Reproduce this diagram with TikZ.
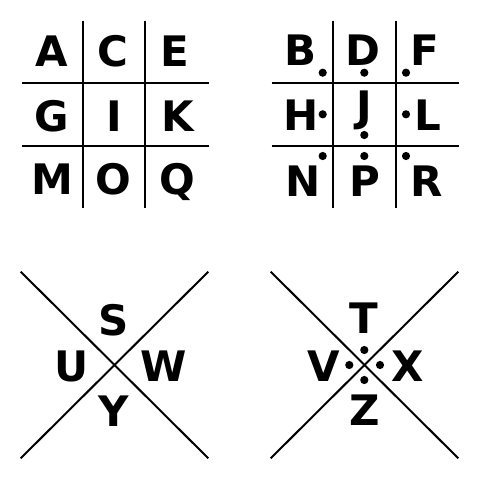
\documentclass[tikz,border=0pt]{standalone}
\usepackage{fontspec}
\setmainfont{DejaVu Sans}
\begin{document}
\begin{tikzpicture}[x=1pt,y=-1pt,
  ltr/.style={anchor=base,inner sep=0pt,font=\fontsize{42}{42}\selectfont\bfseries},
  gridline/.style={line width=2pt,black},
  pdot/.style={fill=black,draw=none}]
\useasboundingbox[fill=white] (0,0) rectangle (480,480);
% top-left grid
\draw[gridline] (82.7,20.7) -- (82.7,208.3) (145.3,20.7) -- (145.3,208.3);
\draw[gridline] (21.7,83.3) -- (209.3,83.3) (21.7,145.7) -- (209.3,145.7);
\node[ltr] (A) at (52,66.7) {A};
\node[ltr] (C) at (113,66.7) {C};
\node[ltr] (E) at (175,66.7) {E};
\node[ltr] (G) at (52,131.7) {G};
\node[ltr] (I) at (114,131.7) {I};
\node[ltr] (K) at (178,131.7) {K};
\node[ltr] (M) at (52.5,194) {M};
\node[ltr] (O) at (113,194) {O};
\node[ltr] (Q) at (177,194) {Q};
% top-right grid
\draw[gridline] (333.3,20.7) -- (333.3,208.3) (396,20.7) -- (396,208.3);
\draw[gridline] (271.7,83.3) -- (459.3,83.3) (271.7,145.7) -- (459.3,145.7);
\node[ltr] (B) at (300.5,65) {B};
\node[ltr] (D) at (363,65) {D};
\node[ltr] (F) at (425,65) {F};
\node[ltr] (H) at (301.5,130) {H};
\node[ltr] (J) at (364,121) {J};
\node[ltr] (L) at (428,130) {L};
\node[ltr] (N) at (303.5,196.5) {N};
\node[ltr] (P) at (365,196.5) {P};
\node[ltr] (R) at (426.5,196.5) {R};
\foreach \x in {322.7,364.3,406} {
  \fill[pdot] (\x,72.7) circle (4.1);
  \fill[pdot] (\x,156) circle (4.1);
}
\fill[pdot] (322.7,114.3) circle (4.1);
\fill[pdot] (406,114.3) circle (4.1);
\fill[pdot] (364.3,135) circle (4.1);
% bottom-left X
\draw[gridline] (20.7,271.7) -- (208.3,458.3) (208.3,271.7) -- (20.7,458.3);
\node[ltr] (S) at (114,335) {S};
\node[ltr] (U) at (72,381.7) {U};
\node[ltr] (W) at (164,381.7) {W};
\node[ltr] (Y) at (114,426.7) {Y};
% bottom-right X
\draw[gridline] (270.7,271.7) -- (458.3,458.3) (458.3,271.7) -- (270.7,458.3);
\node[ltr] (T) at (364,333.5) {T};
\node[ltr] (V) at (323.3,381.7) {V};
\node[ltr] (X) at (407.5,381.7) {X};
\node[ltr] (Z) at (364.5,425.5) {Z};
\fill[pdot] (364.3,350) circle (4.1);
\fill[pdot] (349.3,365) circle (4.1);
\fill[pdot] (380,365) circle (4.1);
\fill[pdot] (364.3,380) circle (4.1);
\end{tikzpicture}
\end{document}
